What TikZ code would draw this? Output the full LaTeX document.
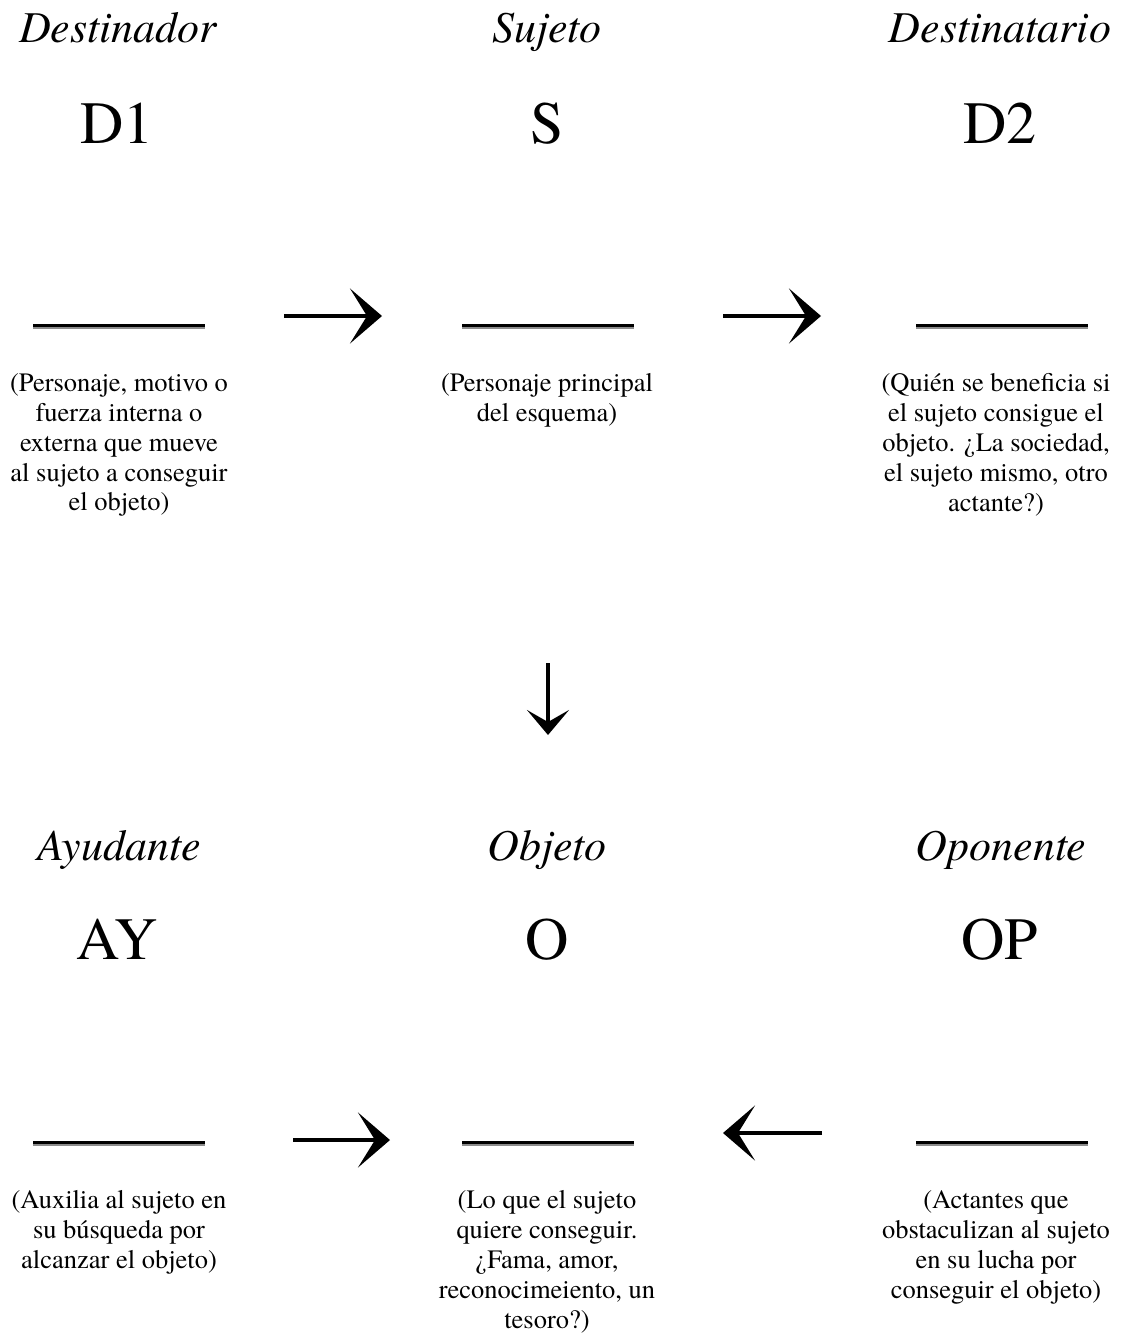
\documentclass[tikz,border=0pt]{standalone}
\usepackage{fontspec}
\setmainfont{texgyretermes-regular.otf}[ItalicFont=texgyretermes-italic.otf]
\usetikzlibrary{arrows.meta}
\tikzset{
  role/.style={anchor=base, inner sep=0pt, font=\fontsize{44}{50}\selectfont\itshape},
  code/.style={anchor=base, inner sep=0pt, font=\fontsize{60}{66}\selectfont},
  desc/.style={anchor=north, inner sep=0pt, align=center, font=\fontsize{26.5}{29.8}\selectfont},
  blank/.style={draw=none, minimum width=172pt, minimum height=4.8pt, inner sep=0pt,
    path picture={
      \fill[black] (path picture bounding box.north west) rectangle ([yshift=-2.7pt]path picture bounding box.north east);
      \fill[black!45] ([yshift=-2.7pt]path picture bounding box.north west) rectangle (path picture bounding box.south east);
    }},
  bigarrow/.style={line width=4pt, -{Stealth[length=32pt, width=55pt, inset=17pt]}},
  downarrow/.style={line width=3.5pt, -{Stealth[length=25pt, width=42pt, inset=12pt]}},
}
\begin{document}
\begin{tikzpicture}[x=1pt, y=-1pt]
\useasboundingbox (0,0) rectangle (1125,1336);
% top row
\node[role] (r1) at (118,42) {Destinador};
\node[role] (r2) at (547,42) {Sujeto};
\node[role] (r3) at (1000,42) {Destinatario};
\node[code] (c1) at (117,143) {D1};
\node[code] (c2) at (547,143) {S};
\node[code] (c3) at (1000,143) {D2};
\node[blank] (u1) at (119,326.4) {};
\node[blank] (u2) at (548,326.4) {};
\node[blank] (u3) at (1002,326.4) {};
\node[desc] (d1) at (119,373.5) {(Personaje, motivo o\\fuerza interna o\\externa que mueve\\al sujeto a conseguir\\el objeto)};
\node[desc] (d2) at (547,373.5) {(Personaje principal\\del esquema)};
\node[desc] (d3) at (996,373.5) {(Quién se beneficia si\\el sujeto consigue el\\objeto. ¿La sociedad,\\el sujeto mismo, otro\\actante?)};
\coordinate (a1s) at (284,316);
\coordinate (a1e) at (382,316);
\coordinate (a2s) at (723,316);
\coordinate (a2e) at (821,316);
\draw[bigarrow] (a1s) -- (a1e);
\draw[bigarrow] (a2s) -- (a2e);
% down arrow
\coordinate (dns) at (548,663);
\coordinate (dne) at (548,735);
\draw[downarrow] (dns) -- (dne);
% bottom row
\node[role] (r4) at (119,860) {Ayudante};
\node[role] (r5) at (547,860) {Objeto};
\node[role] (r6) at (1001,860) {Oponente};
\node[code] (c4) at (117,959) {AY};
\node[code] (c5) at (547,959) {O};
\node[code] (c6) at (1000,959) {OP};
\node[blank] (u4) at (119,1143.4) {};
\node[blank] (u5) at (548,1143.4) {};
\node[blank] (u6) at (1002,1143.4) {};
\node[desc] (d4) at (119,1190.5) {(Auxilia al sujeto en\\su búsqueda por\\alcanzar el objeto)};
\node[desc] (d5) at (547,1190.5) {(Lo que el sujeto\\quiere conseguir.\\¿Fama, amor,\\reconocimeiento, un\\tesoro?)};
\node[desc] (d6) at (996,1190.5) {(Actantes que\\obstaculizan al sujeto\\en su lucha por\\conseguir el objeto)};
\coordinate (a3s) at (293,1140);
\coordinate (a3e) at (390,1140);
\coordinate (a4s) at (822,1133);
\coordinate (a4e) at (723,1133);
\draw[bigarrow] (a3s) -- (a3e);
\draw[bigarrow] (a4s) -- (a4e);
\end{tikzpicture}
\end{document}
